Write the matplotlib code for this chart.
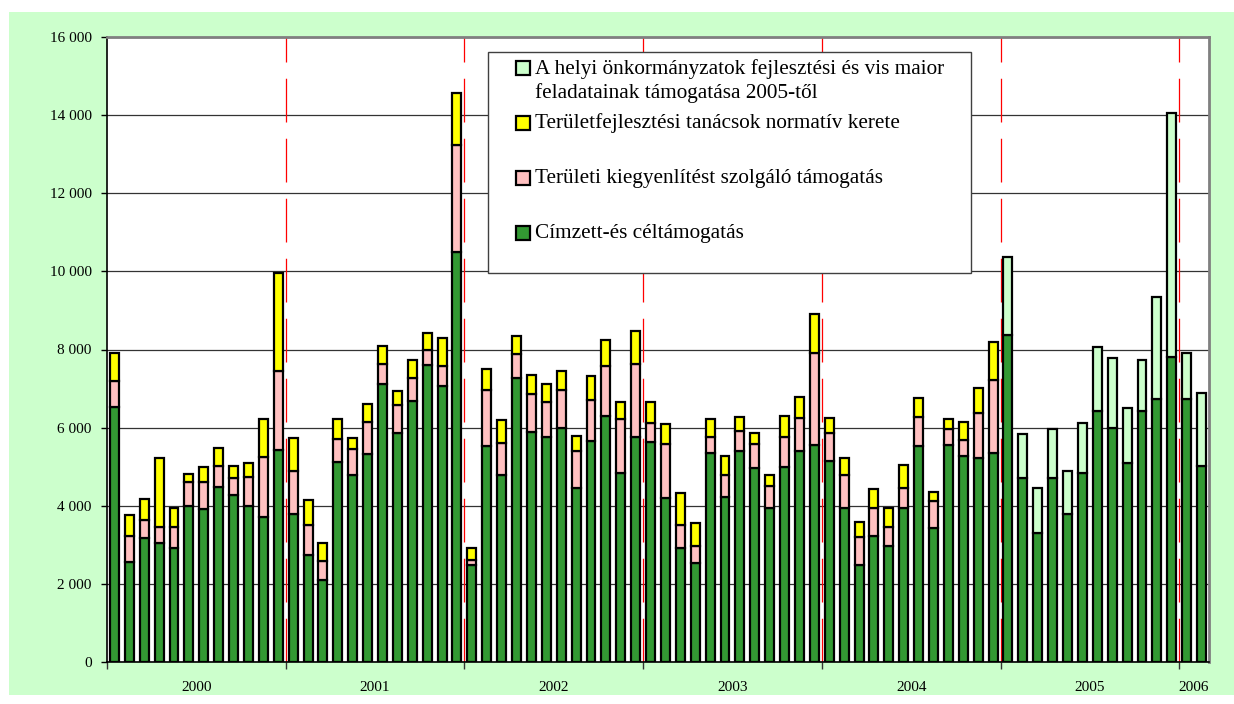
import matplotlib.pyplot as plt
from matplotlib.patches import Rectangle
import numpy as np

W, H = 1234, 704

years = ["2000", "2001", "2002", "2003", "2004", "2005", "2006"]
months_per_year = [12, 12, 12, 12, 12, 12, 2]

# havi adatok (millió Ft), 2000 jan - 2006 feb
cimzett = [6520, 2555, 3180, 3050, 2910, 4000, 3920, 4475, 4270, 4005, 3720, 5420,
           3800, 2745, 2095, 5130, 4780, 5330, 7110, 5850, 6670, 7600, 7060, 10500,
           2480, 5525, 4775, 7280, 5890, 5765, 5995, 4450, 5645, 6290, 4845, 5755,
           5625, 4195, 2925, 2530, 5340, 4220, 5405, 4960, 3930, 4980, 5395, 5560,
           5150, 3950, 2480, 3220, 2965, 3930, 5540, 3425, 5550, 5280, 5220, 5340,
           8375, 4700, 3295, 4700, 3795, 4835, 6420, 5980, 5100, 6435, 6725, 7800,
           6745, 5030]
teruleti = [670, 665, 460, 410, 550, 600, 690, 550, 450, 735, 1540, 2020,
            1100, 770, 480, 590, 665, 820, 510, 725, 600, 400, 520, 2730,
            120, 1435, 840, 615, 975, 895, 965, 940, 1075, 1300, 1380, 1885,
            500, 1390, 590, 435, 425, 580, 510, 625, 570, 775, 845, 2360,
            700, 850, 715, 710, 485, 520, 735, 685, 420, 410, 1160, 1875,
            0, 0, 0, 0, 0, 0, 0, 0, 0, 0, 0, 0,
            0, 0]
normativ = [710, 550, 540, 1760, 470, 215, 385, 460, 290, 350, 965, 2510,
            840, 620, 480, 500, 280, 460, 480, 375, 460, 425, 705, 1340,
            315, 530, 580, 460, 485, 450, 485, 400, 590, 665, 435, 845,
            520, 520, 800, 600, 445, 470, 365, 280, 275, 540, 545, 1000,
            400, 430, 385, 510, 505, 605, 485, 240, 240, 450, 640, 985,
            0, 0, 0, 0, 0, 0, 0, 0, 0, 0, 0, 0,
            0, 0]
helyi = [0] * 60 + [1990, 1130, 1160, 1275, 1085, 1295, 1650, 1810, 1390, 1300, 2615, 6260,
                    1170, 1845]

labels = ["Címzett-és céltámogatás",
          "Területi kiegyenlítést szolgáló támogatás",
          "Területfejlesztési tanácsok normatív kerete",
          "A helyi önkormányzatok fejlesztési és vis maior\nfeladatainak támogatása 2005-től"]
colors = ["#339933", "#FFC0C0", "#FFFF00", "#CCFFCC"]

font = "Liberation Serif"


def px(x, y):
    # pixel koordinátából figure koordináta
    return x / W, 1 - y / H


fig = plt.figure(figsize=(W / 100, H / 100), dpi=100)
fig.patch.set_facecolor("white")
fig.add_artist(Rectangle(px(9, 695), (W - 9) / W, (695 - 12) / H,
                         transform=fig.transFigure, facecolor="#CCFFCC", edgecolor="none", zorder=0))

ax = fig.add_axes([107 / W, 1 - 662 / H, 1102 / W, 625 / H])
ax.set_facecolor("white")

n = len(cimzett)
x = np.arange(n)
bottom = np.zeros(n)
for values, color in zip([cimzett, teruleti, normativ, helyi], colors):
    values = np.array(values, dtype=float)
    mask = values > 0
    ax.bar(x[mask], values[mask], 0.6, bottom=bottom[mask], color=color,
           edgecolor="black", linewidth=1.6, zorder=3)
    bottom += values

# évhatárok
bounds = np.cumsum([0] + months_per_year) - 0.5
centers = (bounds[:-1] + bounds[1:]) / 2
for b in bounds[1:-1]:
    ax.axvline(b, color="red", linewidth=0.9, dashes=(35, 13), zorder=1)

ax.set_xlim(-0.5, n - 0.5)
ax.set_ylim(0, 16000)

yt = list(range(0, 16001, 2000))
ax.set_yticks(yt)
ax.set_yticklabels([f"{v:,}".replace(",", " ") for v in yt], fontsize=11, family=font)
ax.tick_params(axis="y", direction="out", length=4, width=1, pad=7)

ax.set_xticks(bounds[:-1])
ax.set_xticklabels([])
ax.set_xticks(centers, minor=True)
ax.set_xticklabels(years, minor=True, fontsize=11, family=font)
ax.tick_params(axis="x", which="major", direction="out", length=5, width=1, color="#333333")
ax.tick_params(axis="x", which="minor", length=0, pad=14)

ax.yaxis.grid(True, color="#333333", linewidth=0.9)
ax.set_axisbelow(True)

ax.spines["left"].set_color("black")
ax.spines["left"].set_linewidth(1.2)
ax.spines["bottom"].set_color("black")
ax.spines["bottom"].set_linewidth(1.2)
for s in ["top", "right"]:
    ax.spines[s].set_color("#808080")
    ax.spines[s].set_linewidth(2)

# jelmagyarázat kézzel, a doboz helye az eredeti szerint
fig.add_artist(Rectangle(px(488, 273), (971 - 488) / W, (273 - 52) / H, transform=fig.transFigure,
                         facecolor="white", edgecolor="#404040", linewidth=1, zorder=10))
entries = [(labels[3], colors[3], 68, 81),
           (labels[2], colors[2], 123, 123),
           (labels[1], colors[1], 178, 178),
           (labels[0], colors[0], 233, 233)]
for text, color, ysq, ytxt in entries:
    fig.add_artist(Rectangle(px(516, ysq + 6.5), 13.5 / W, 13.5 / H, transform=fig.transFigure,
                             facecolor=color, edgecolor="black", linewidth=1.6, zorder=11))
    fx, fy = px(535, ytxt)
    fig.text(fx, fy, text, fontsize=15.3, family=font, va="center", ha="left",
             linespacing=1.25, zorder=12)

fig.savefig("out.png", dpi=100)
